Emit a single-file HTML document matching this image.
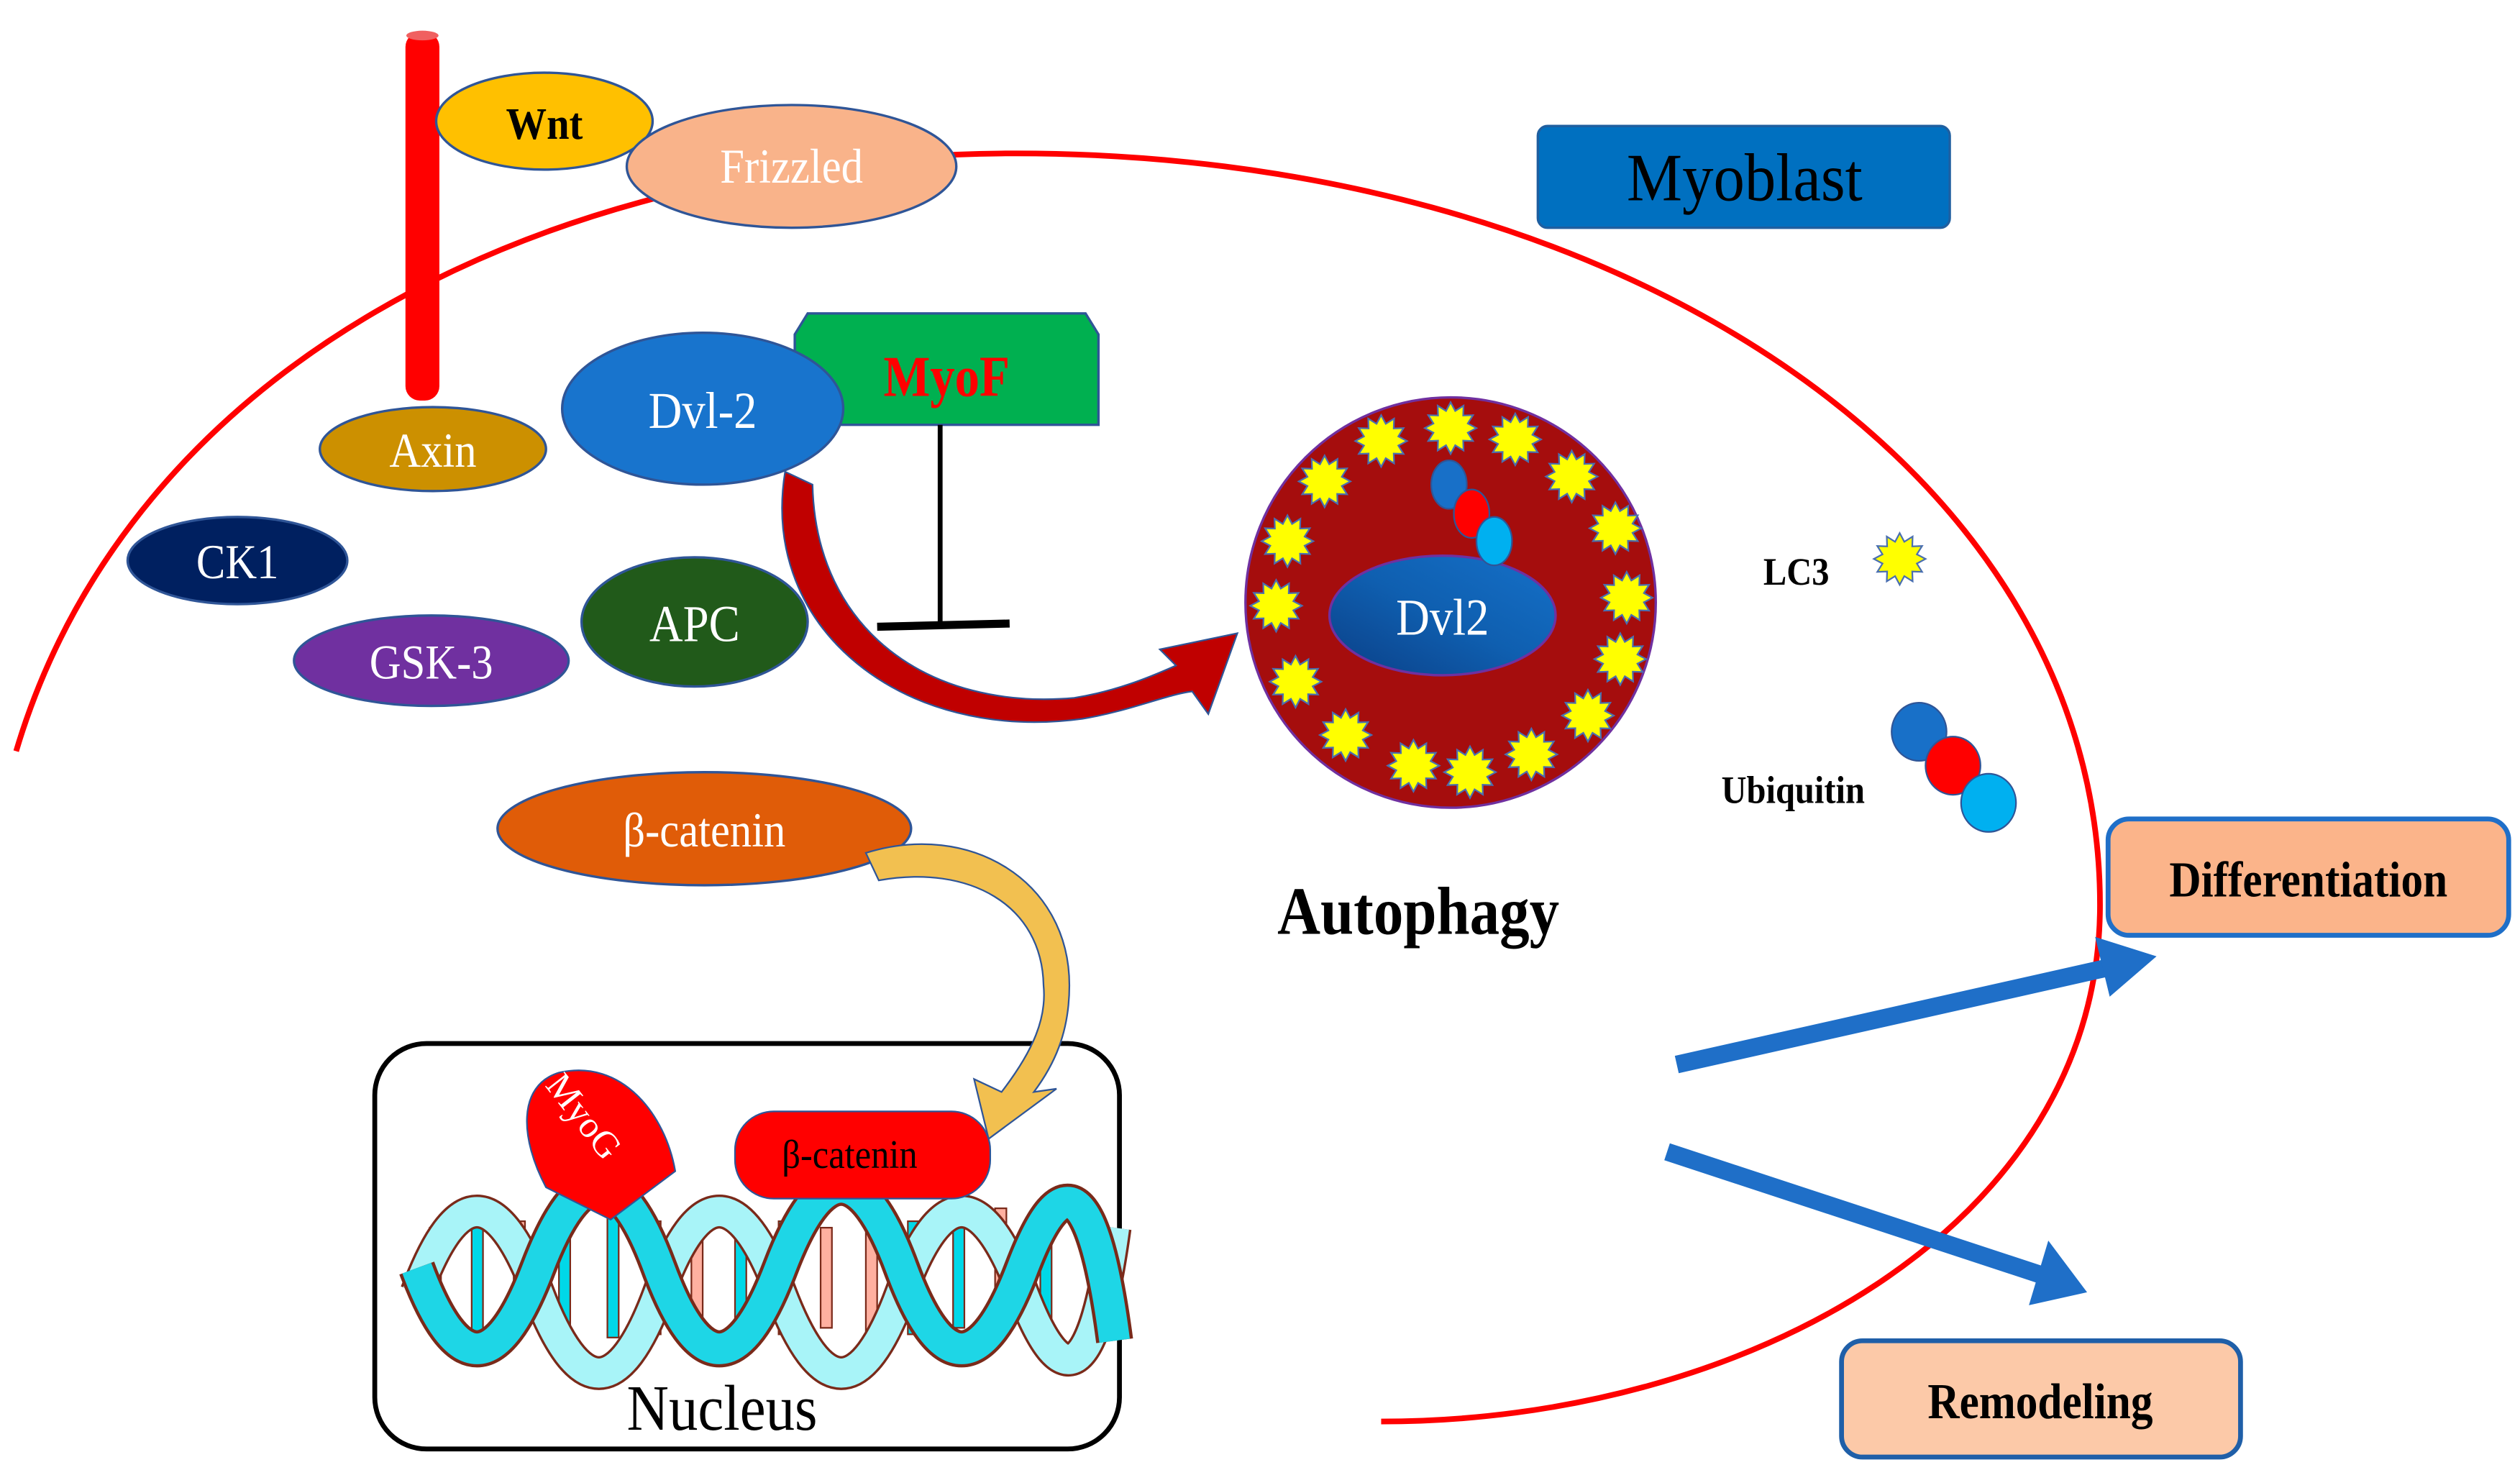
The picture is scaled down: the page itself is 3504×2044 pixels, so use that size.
<!DOCTYPE html>
<html><head><meta charset="utf-8"><style>
html,body{margin:0;padding:0;background:#fff;}
svg{display:block;}
text{font-family:"Liberation Serif",serif;}
</style></head><body>
<svg width="3504" height="2044" viewBox="0 0 1560 910" preserveAspectRatio="none" xmlns="http://www.w3.org/2000/svg">
<defs>
<path id="st" d="M0,-16 L2.85,-10.63 L8,-13.86 L7.78,-7.78 L13.86,-8 L10.63,-2.85 L16,0 L10.63,2.85 L13.86,8 L7.78,7.78 L8,13.86 L2.85,10.63 L0,16 L-2.85,10.63 L-8,13.86 L-7.78,7.78 L-13.86,8 L-10.63,2.85 L-16,0 L-10.63,-2.85 L-13.86,-8 L-7.78,-7.78 L-8,-13.86 L-2.85,-10.63 Z" fill="#FFFF00" stroke="#4A6FB0" stroke-width="1"/>
<linearGradient id="dg" x1="0" y1="1" x2="1" y2="0"><stop offset="0" stop-color="#0B3F86"/><stop offset="0.5" stop-color="#0F5FB0"/><stop offset="1" stop-color="#1570C8"/></linearGradient>
</defs>

<path d="M10,465 C80,230 330,98 620,95 C1000,92 1300,290 1300,560 C1300,760 1080,880 855,880" fill="none" stroke="#FF0000" stroke-width="3.5"/>

<rect x="251" y="20" width="21" height="228" rx="9" fill="#FF0000"/>
<ellipse cx="261.5" cy="22" rx="10" ry="3" fill="#F06060"/>

<ellipse cx="337" cy="75" rx="67" ry="30" fill="#FFC000" stroke="#2F5597" stroke-width="1.5"/>
<text x="337" y="86" font-size="28" text-anchor="middle" fill="#000" font-weight="bold" transform="translate(337,0) scale(0.9,1) translate(-337,0)">Wnt</text>
<ellipse cx="490" cy="103" rx="102" ry="38" fill="#F9B38A" stroke="#2F5597" stroke-width="1.5"/>
<text x="490" y="113" font-size="30" text-anchor="middle" fill="#fff" transform="translate(490,0) scale(0.9,1) translate(-490,0)">Frizzled</text>

<rect x="952" y="78" width="255" height="63" rx="6" fill="#0070C0" stroke="#1F5FA0" stroke-width="1.5"/>
<text x="1080" y="124" font-size="42" text-anchor="middle" fill="#000" transform="translate(1080,0) scale(0.92,1) translate(-1080,0)">Myoblast</text>

<ellipse cx="268" cy="278" rx="70" ry="26" fill="#CC9000" stroke="#2F5597" stroke-width="1.5"/>
<text x="268" y="289" font-size="30" text-anchor="middle" fill="#fff" transform="translate(268,0) scale(0.9,1) translate(-268,0)">Axin</text>

<polygon points="500,194 672,194 680,207 680,263 492,263 492,207" fill="#00B050" stroke="#2F5597" stroke-width="1.5"/>
<text x="586" y="245" font-size="36" text-anchor="middle" fill="#FF0000" font-weight="bold" transform="translate(586,0) scale(0.85,1) translate(-586,0)">MyoF</text>

<ellipse cx="435" cy="253" rx="87" ry="47" fill="#1874CD" stroke="#2F5597" stroke-width="1.5"/>
<text x="435" y="265" font-size="32" text-anchor="middle" fill="#fff" transform="translate(435,0) scale(0.9,1) translate(-435,0)">Dvl-2</text>

<line x1="582" y1="263" x2="582" y2="387" stroke="#000" stroke-width="3"/>
<line x1="543" y1="388" x2="625" y2="386" stroke="#000" stroke-width="5"/>

<ellipse cx="147" cy="347" rx="68" ry="27" fill="#002060" stroke="#2F5597" stroke-width="1.5"/>
<text x="147" y="358" font-size="30" text-anchor="middle" fill="#fff" transform="translate(147,0) scale(0.9,1) translate(-147,0)">CK1</text>
<ellipse cx="267" cy="409" rx="85" ry="28" fill="#7030A0" stroke="#2F5597" stroke-width="1.5"/>
<text x="267" y="420" font-size="30" text-anchor="middle" fill="#fff" transform="translate(267,0) scale(0.9,1) translate(-267,0)">GSK-3</text>
<ellipse cx="430" cy="385" rx="70" ry="40" fill="#215A1A" stroke="#2F5597" stroke-width="1.5"/>
<text x="430" y="397" font-size="32" text-anchor="middle" fill="#fff" transform="translate(430,0) scale(0.9,1) translate(-430,0)">APC</text>

<path d="M486,292 C470,390 560,460 670,445 C700,440 722,430 738,428 L748,442 L766,392 L718,402 L728,412 C710,420 690,428 665,432 C575,440 505,390 503,300 Z" fill="#C00000" stroke="#2F5597" stroke-width="1"/>

<circle cx="898" cy="373" r="127" fill="#A50D0D" stroke="#7030A0" stroke-width="1.5"/>
<g>
<use href="#st" x="855" y="273"/><use href="#st" x="898" y="265"/><use href="#st" x="938" y="272"/><use href="#st" x="973" y="295"/>
<use href="#st" x="1000" y="327"/><use href="#st" x="1007" y="370"/><use href="#st" x="1003" y="408"/><use href="#st" x="983" y="443"/>
<use href="#st" x="948" y="467"/><use href="#st" x="910" y="478"/><use href="#st" x="875" y="474"/><use href="#st" x="833" y="455"/>
<use href="#st" x="802" y="422"/><use href="#st" x="790" y="375"/><use href="#st" x="797" y="335"/><use href="#st" x="820" y="298"/>
</g>
<ellipse cx="893" cy="381" rx="70" ry="37" fill="url(#dg)" stroke="#7030A0" stroke-width="1.5"/>
<text x="893" y="393" font-size="32" text-anchor="middle" fill="#fff" transform="translate(893,0) scale(0.9,1) translate(-893,0)">Dvl2</text>
<ellipse cx="897" cy="300" rx="11" ry="15" fill="#1870C8" stroke="#2F5597" stroke-width="1"/>
<ellipse cx="911" cy="318" rx="11" ry="15" fill="#FF0000" stroke="#2F5597" stroke-width="1"/>
<ellipse cx="925" cy="335" rx="11" ry="15" fill="#00B0F0" stroke="#2F5597" stroke-width="1"/>

<text x="1112" y="362" font-size="24" text-anchor="middle" fill="#000" font-weight="bold" transform="translate(1112,0) scale(0.9,1) translate(-1112,0)">LC3</text>
<use href="#st" x="1176" y="346"/>
<text x="1110" y="497" font-size="24" text-anchor="middle" fill="#000" font-weight="bold" transform="translate(1110,0) scale(0.9,1) translate(-1110,0)">Ubiquitin</text>
<ellipse cx="1188" cy="453" rx="17" ry="18" fill="#1870C8" stroke="#2F5597" stroke-width="1"/>
<ellipse cx="1209" cy="474" rx="17" ry="18" fill="#FF0000" stroke="#2F5597" stroke-width="1"/>
<ellipse cx="1231" cy="497" rx="17" ry="18" fill="#00B0F0" stroke="#2F5597" stroke-width="1"/>

<text x="878" y="578" font-size="42" text-anchor="middle" fill="#000" font-weight="bold" transform="translate(878,0) scale(0.88,1) translate(-878,0)">Autophagy</text>

<ellipse cx="436" cy="513" rx="128" ry="35" fill="#E05C08" stroke="#2F5597" stroke-width="1.5"/>
<text x="436" y="524" font-size="30" text-anchor="middle" fill="#fff" transform="translate(436,0) scale(0.9,1) translate(-436,0)">β-catenin</text>

<rect x="232" y="646" width="461" height="251" rx="32" fill="#fff" stroke="#000" stroke-width="3"/>
<g stroke="#7A2A1A" stroke-width="1">
<rect x="266" y="760" width="7" height="62" fill="#FFB0A0"/><rect x="292" y="748" width="7" height="80" fill="#00D8E8"/>
<rect x="318" y="756" width="7" height="70" fill="#FFB0A0"/><rect x="346" y="760" width="7" height="62" fill="#00D8E8"/>
<rect x="376" y="748" width="7" height="80" fill="#00D8E8"/><rect x="402" y="756" width="7" height="70" fill="#FFB0A0"/>
<rect x="428" y="760" width="7" height="62" fill="#FFB0A0"/><rect x="455" y="748" width="7" height="80" fill="#00D8E8"/>
<rect x="482" y="756" width="7" height="70" fill="#00D8E8"/><rect x="508" y="760" width="7" height="62" fill="#FFB0A0"/>
<rect x="536" y="748" width="7" height="80" fill="#FFB0A0"/><rect x="562" y="756" width="7" height="70" fill="#00D8E8"/>
<rect x="590" y="760" width="7" height="62" fill="#00D8E8"/><rect x="616" y="748" width="7" height="80" fill="#FFB0A0"/>
<rect x="644" y="756" width="7" height="70" fill="#00D8E8"/>
</g>
<path d="M258,800 Q295,700 333,800 T408,800 T483,800 T558,800 T633,800 T690,760" fill="none" stroke="#7A2A1A" stroke-width="21"/>
<path d="M258,800 Q295,700 333,800 T408,800 T483,800 T558,800 T633,800 T690,760" fill="none" stroke="#A8F4F8" stroke-width="18"/>
<path d="M258,785 Q295,885 333,785 T408,785 T483,785 T558,785 T633,785 T690,830" fill="none" stroke="#7A2A1A" stroke-width="23"/>
<path d="M258,785 Q295,885 333,785 T408,785 T483,785 T558,785 T633,785 T690,830" fill="none" stroke="#1ED6E6" stroke-width="19"/>

<!-- yellow arrow (on top of nucleus) -->
<path d="M536,528 C600,508 662,545 662,610 C662,640 652,660 640,676 L654,674 L612,705 L603,668 L620,676 C640,650 648,630 646,610 C645,560 600,535 544,545 Z" fill="#F2C050" stroke="#2F5597" stroke-width="1"/>

<path d="M346,664 C385,655 412,690 418,725 L378,755 L338,735 C322,705 320,672 346,664 Z" fill="#FF0000" stroke="#2F5597" stroke-width="1"/>
<text x="0" y="0" font-size="23" fill="#fff" transform="translate(337,672) rotate(52)">MyoG</text>

<rect x="455" y="688" width="158" height="54" rx="24" fill="#FF0000" stroke="#2F5597" stroke-width="1"/>
<text x="526" y="723" font-size="25" text-anchor="middle" fill="#000" transform="translate(526,0) scale(0.9,1) translate(-526,0)">β-catenin</text>

<text x="447" y="885" font-size="40" text-anchor="middle" fill="#000" transform="translate(447,0) scale(0.9,1) translate(-447,0)">Nucleus</text>

<line x1="1038" y1="659" x2="1305" y2="599" stroke="#1F6FC8" stroke-width="11"/>
<polygon points="1335,592 1297,580 1306,617" fill="#1F6FC8"/>
<line x1="1032" y1="713" x2="1266" y2="790" stroke="#1F6FC8" stroke-width="11"/>
<polygon points="1292,800 1268,768 1256,808" fill="#1F6FC8"/>

<rect x="1305" y="507" width="248" height="72" rx="13" fill="#FBB48A" stroke="#1F6FC8" stroke-width="3"/>
<text x="1429" y="555" font-size="31" text-anchor="middle" fill="#000" font-weight="bold" transform="translate(1429,0) scale(0.88,1) translate(-1429,0)">Differentiation</text>
<rect x="1140" y="830" width="247" height="72" rx="13" fill="#FCC9A8" stroke="#1F5FA8" stroke-width="3"/>
<text x="1263" y="878" font-size="31" text-anchor="middle" fill="#000" font-weight="bold" transform="translate(1263,0) scale(0.88,1) translate(-1263,0)">Remodeling</text>
</svg>
</body></html>
